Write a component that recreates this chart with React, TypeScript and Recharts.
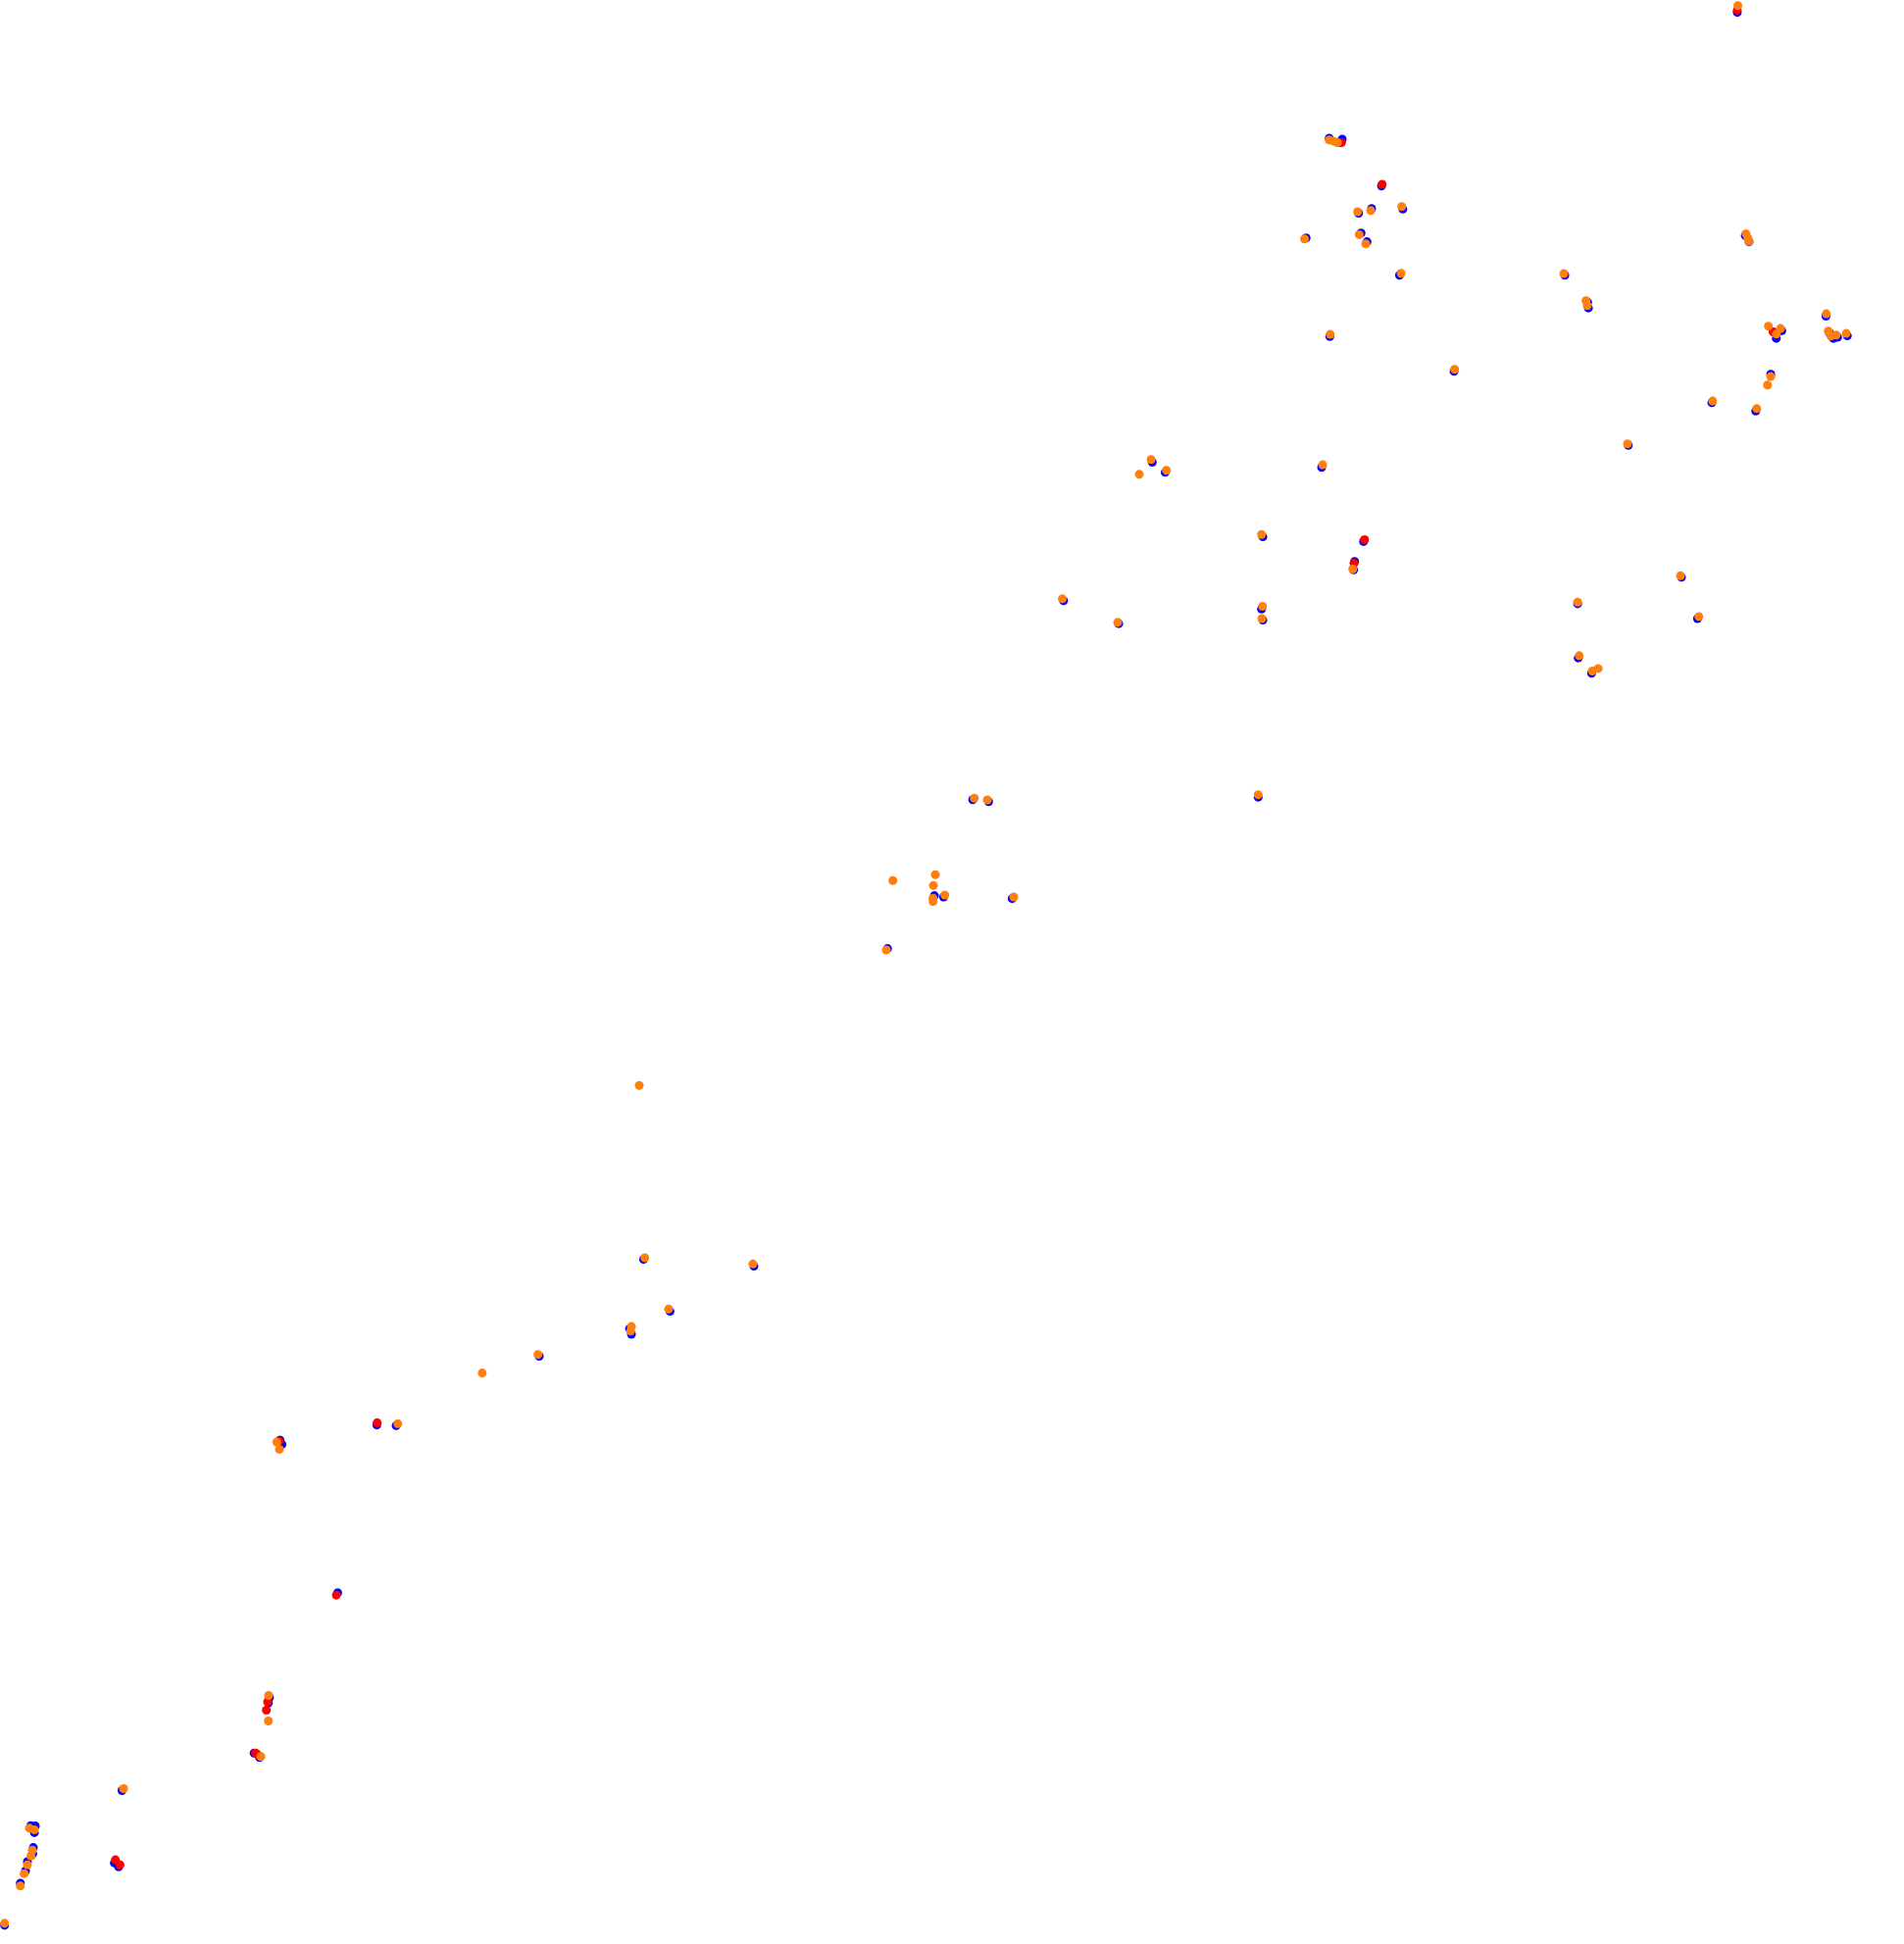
import { ScatterChart, Scatter, XAxis, YAxis } from "recharts";

// positions as [x, y], in plot units (x 0..1536, y 0..1568, y grows downward)
const bluePoints: [number, number][] = [
  [1401.5, 10], [1072.3, 111.5], [1080, 115], [1082.8, 112.3], [1114.5, 150],
  [1096, 172], [1106.5, 168.2], [1131.7, 168.7], [1053.7, 192], [1098, 188],
  [1102.8, 195], [1129, 222], [1408, 190], [1411, 195], [1473, 255],
  [1437.4, 266.8], [1433, 272.9], [1431, 268], [1476, 268.7], [1479, 272.9],
  [1482.4, 272], [1490.3, 270.9], [1428.5, 301.9], [1416.4, 331.5], [1262.4, 222],
  [1281.4, 248.4], [1280.8, 243.8], [1381, 324.8], [1313.6, 359.2], [1356.5, 465.6],
  [1272.7, 487], [1369.4, 498.9], [1273.2, 530.7], [1284, 543], [1072.8, 271.5],
  [1173, 299.5], [1066.2, 377], [1018.8, 433], [1100, 436.8], [1092.8, 452.8],
  [1092, 459.6], [1017.7, 491.3], [1018.8, 500.2], [929.6, 372.8], [940, 381],
  [902.5, 503], [858, 484.5], [1015, 643], [784.7, 645], [797.5, 646.6],
  [753.8, 722.4], [761.2, 723.5], [816.5, 724.8], [716, 765.1], [519.2, 1015.8],
  [608.2, 1021.3], [540.5, 1057.7], [507.9, 1071.7], [509.4, 1076.2], [435, 1094],
  [225.9, 1161.5], [227.5, 1165], [304, 1149.3], [319.6, 1149.9], [272.4, 1284.7],
  [217.4, 1369.2], [216.5, 1373.5], [205, 1414], [209.4, 1417.6], [98.4, 1444.2],
  [24.8, 1472.6], [28.5, 1472.8], [27.7, 1478.2], [26.9, 1490.2], [26.4, 1495.3],
  [22.1, 1501.5], [20.6, 1509], [16.4, 1519], [3.7, 1552.9], [92.3, 1502.6],
  [95.7, 1505.8],
];

const redPoints: [number, number][] = [
  [1401.5, 8.2], [1082.2, 115], [1115, 148.7], [1430.3, 267.6], [1100.8, 435.3],
  [1092.3, 454.3], [225.2, 1162.5], [304.3, 1147.6], [271.3, 1286.6], [215.9, 1372.6],
  [214.9, 1379.4], [206.2, 1414], [207.8, 1415.3], [93.1, 1500.1], [96.8, 1504.1],
];

const orangePoints: [number, number][] = [
  [1402, 4.5], [1072.3, 112.9], [1076, 114], [1079, 115], [1095.2, 170.8],
  [1105.8, 169.8], [1130.8, 166.6], [1052.4, 192.7], [1096.5, 189.3], [1101.8, 196.7],
  [1130.3, 220.4], [1408.5, 188.5], [1410, 192], [1411, 194.6], [1473.3, 253.1],
  [1426.6, 263.1], [1436.4, 265], [1433, 269.5], [1474.9, 267.1], [1477, 271],
  [1481.3, 270.3], [1489.4, 268.9], [1428.5, 303.7], [1425.9, 310.6], [1417.2, 329.6],
  [1261.6, 220.7], [1279.5, 242.6], [1280.5, 246.5], [1381.6, 323.5], [1313, 358],
  [1355.7, 464.3], [1272.7, 485.7], [1370.5, 497.3], [1274, 528.9], [1289.3, 539.2],
  [1284.6, 541.3], [1073.1, 269.7], [1173.5, 297.9], [1067, 374.9], [1017.7, 431.1],
  [1091.3, 459], [1018.5, 489.1], [1018, 498.9], [928.6, 370.7], [919.1, 382.6],
  [941, 379.4], [901.7, 502], [857, 483], [1015, 641], [786, 643.8],
  [796.5, 645.2], [720.3, 710.3], [754.6, 705.5], [753, 714.2], [752.7, 724.5],
  [752.7, 727.2], [762.2, 721.9], [817.8, 723.5], [715, 766.2], [515.7, 875.5],
  [520.2, 1014.5], [607.4, 1019.5], [539.4, 1055.9], [509.4, 1069.9], [508.8, 1073.6],
  [389, 1107.5], [434, 1092.5], [223.3, 1163.2], [225.4, 1169], [320.9, 1148.4],
  [216.7, 1367.6], [216.5, 1388.1], [210.4, 1416.8], [99.7, 1442.7], [23.7, 1474.6],
  [27.7, 1475.9], [26.1, 1492.3], [25, 1497], [22.1, 1504.1], [19.5, 1511.2],
  [16.4, 1521.2], [3.7, 1551.3],
];

const toRows = (pts: [number, number][]) => pts.map(([x, y]) => ({ x, y }));

export default function App() {
  return (
    <div style={{ position: "absolute", left: 0, top: 0, width: 1942, height: 1983, background: "#fff" }}>
      <ScatterChart
        width={1942}
        height={1983}
        margin={{ top: 0, right: 0, bottom: 0, left: 0 }}
        style={{ overflow: "visible" }}
      >
        <XAxis type="number" dataKey="x" domain={[0, 1536]} hide allowDataOverflow={false} />
        <YAxis type="number" dataKey="y" domain={[0, 1568]} reversed hide />
        <Scatter data={toRows(bluePoints)} fill="#0000ff" isAnimationActive={false} />
        <Scatter data={toRows(redPoints)} fill="#ff0000" isAnimationActive={false} />
        <Scatter data={toRows(orangePoints)} fill="#ff7f0e" isAnimationActive={false} />
      </ScatterChart>
    </div>
  );
}
